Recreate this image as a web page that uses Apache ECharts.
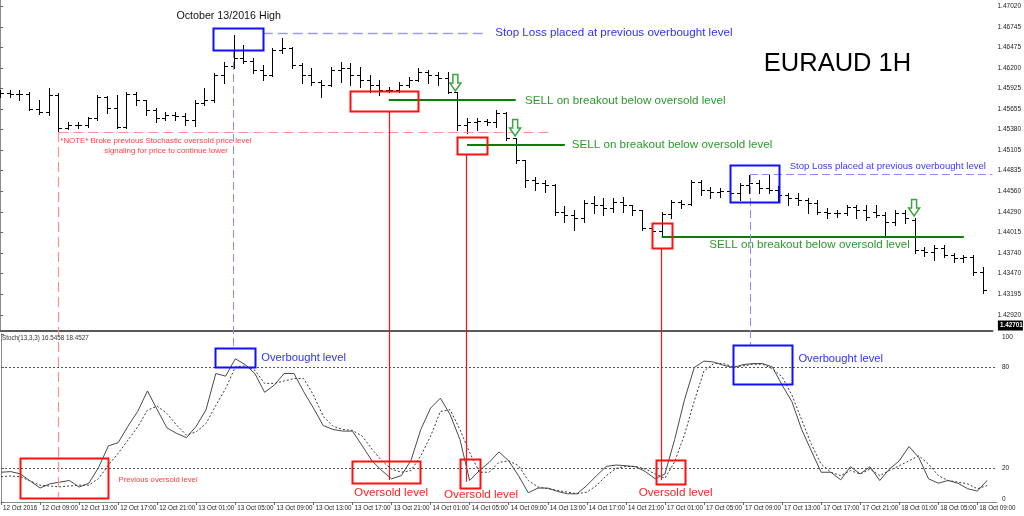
<!DOCTYPE html>
<html><head><meta charset="utf-8">
<script src="https://cdn.jsdelivr.net/npm/echarts@6/dist/echarts.min.js"></script>
<style>html,body{margin:0;padding:0;background:#fff}#c{width:1024px;height:516px}</style>
</head><body><div id="c"></div>
<script>
// ---------------- DATA ----------------
const xTickLabels = ['12 Oct 2016','12 Oct 09:00','12 Oct 13:00','12 Oct 17:00','12 Oct 21:00','13 Oct 01:00','13 Oct 05:00','13 Oct 09:00','13 Oct 13:00','13 Oct 17:00','13 Oct 21:00','14 Oct 01:00','14 Oct 05:00','14 Oct 09:00','14 Oct 13:00','14 Oct 17:00','14 Oct 21:00','17 Oct 01:00','17 Oct 05:00','17 Oct 09:00','17 Oct 13:00','17 Oct 17:00','17 Oct 21:00','18 Oct 01:00','18 Oct 05:00','18 Oct 09:00'];
const barsPerTick = 4;
const priceTicks = [1.47020,1.46745,1.46475,1.46200,1.45925,1.45655,1.45380,1.45105,1.44835,1.44560,1.44290,1.44015,1.43740,1.43470,1.43195,1.42920];
const stochTicks = [0,20,80,100];
const stochLevels = [80,20];
const currentPrice = 1.42701;

const open  = [1.45839,1.45866,1.45853,1.45853,1.45654,1.45614,1.45839,1.45401,1.45441,1.45441,1.45534,1.45813,1.45667,1.45415,1.45853,1.45773,1.45640,1.45534,1.45574,1.45561,1.45508,1.45733,1.45773,1.46105,1.46224,1.46330,1.46291,1.46171,1.46105,1.46437,1.46463,1.46237,1.46105,1.46012,1.45972,1.46171,1.46198,1.46105,1.46038,1.45972,1.45906,1.45906,1.45972,1.46038,1.46145,1.46105,1.46065,1.45879,1.45441,1.45481,1.45494,1.45481,1.45601,1.45269,1.44977,1.44711,1.44672,1.44645,1.44287,1.44247,1.44207,1.44406,1.44380,1.44340,1.44420,1.44380,1.44313,1.44074,1.44035,1.44260,1.44420,1.44393,1.44685,1.44579,1.44552,1.44565,1.44539,1.44645,1.44672,1.44605,1.44579,1.44512,1.44473,1.44446,1.44406,1.44287,1.44274,1.44274,1.44353,1.44313,1.44287,1.44247,1.44154,1.44274,1.44181,1.43783,1.43756,1.43809,1.43716,1.43676,1.43690,1.43491];
const high  = [1.45906,1.45906,1.45906,1.45879,1.45773,1.45932,1.45866,1.45481,1.45481,1.45547,1.45839,1.45826,1.45839,1.45879,1.45879,1.45773,1.45667,1.45614,1.45614,1.45601,1.45773,1.45932,1.46131,1.46277,1.46636,1.46503,1.46330,1.46237,1.46463,1.46596,1.46476,1.46264,1.46198,1.46038,1.46211,1.46277,1.46264,1.46211,1.46105,1.46038,1.45946,1.46012,1.46078,1.46198,1.46171,1.46145,1.46145,1.45879,1.45534,1.45534,1.45521,1.45640,1.45614,1.45269,1.44977,1.44751,1.44711,1.44658,1.44366,1.44313,1.44446,1.44499,1.44473,1.44473,1.44486,1.44380,1.44313,1.44074,1.44287,1.44446,1.44446,1.44711,1.44711,1.44619,1.44605,1.44605,1.44672,1.44778,1.44711,1.44778,1.44632,1.44539,1.44539,1.44473,1.44446,1.44340,1.44313,1.44380,1.44380,1.44380,1.44380,1.44287,1.44313,1.44313,1.44207,1.43822,1.43849,1.43849,1.43743,1.43716,1.43716,1.43557];
const low   = [1.45813,1.45813,1.45773,1.45640,1.45587,1.45574,1.45348,1.45388,1.45401,1.45415,1.45508,1.45601,1.45401,1.45401,1.45707,1.45574,1.45481,1.45508,1.45508,1.45441,1.45428,1.45707,1.45747,1.45999,1.46198,1.46264,1.46131,1.46038,1.46092,1.46397,1.46198,1.45999,1.45972,1.45813,1.45959,1.46012,1.45972,1.45946,1.45879,1.45839,1.45879,1.45879,1.45946,1.46025,1.45999,1.45972,1.45866,1.45375,1.45335,1.45375,1.45441,1.45415,1.45242,1.44937,1.44619,1.44579,1.44552,1.44247,1.44154,1.44048,1.44154,1.44274,1.44247,1.44287,1.44287,1.44247,1.44048,1.44008,1.43955,1.44207,1.44340,1.44380,1.44512,1.44473,1.44486,1.44486,1.44446,1.44539,1.44539,1.44539,1.44420,1.44380,1.44380,1.44274,1.44260,1.44207,1.44220,1.44247,1.44207,1.44181,1.44220,1.43955,1.44114,1.44141,1.43743,1.43703,1.43650,1.43690,1.43623,1.43623,1.43451,1.43212];
const close = [1.45866,1.45853,1.45853,1.45654,1.45614,1.45839,1.45401,1.45441,1.45441,1.45534,1.45813,1.45667,1.45415,1.45853,1.45773,1.45640,1.45534,1.45574,1.45561,1.45508,1.45733,1.45773,1.46105,1.46224,1.46330,1.46291,1.46171,1.46105,1.46437,1.46463,1.46237,1.46105,1.46012,1.45972,1.46171,1.46198,1.46105,1.46038,1.45972,1.45906,1.45906,1.45972,1.46038,1.46145,1.46105,1.46065,1.45879,1.45441,1.45481,1.45494,1.45481,1.45601,1.45269,1.44977,1.44711,1.44672,1.44645,1.44287,1.44247,1.44207,1.44406,1.44380,1.44340,1.44420,1.44380,1.44313,1.44074,1.44035,1.44260,1.44420,1.44393,1.44685,1.44579,1.44552,1.44565,1.44539,1.44645,1.44672,1.44605,1.44579,1.44512,1.44473,1.44446,1.44406,1.44287,1.44274,1.44274,1.44353,1.44313,1.44220,1.44247,1.44154,1.44274,1.44207,1.43783,1.43756,1.43809,1.43716,1.43676,1.43690,1.43491,1.43252];

const stochK = [17.7,18.1,16.7,12.5,8.3,10.8,11.8,12.8,8.9,11.2,20.6,33.4,35.3,45.1,53.9,66.1,54.9,44.1,40.8,38.3,45.1,54.9,76.5,74.9,85.3,81.8,76.5,65.3,69.6,76.5,76.5,65.7,55.9,45.5,43.2,42.2,42.2,33.4,24.5,18.7,13.8,15.7,24.9,43.2,55.9,61.8,52.0,37.3,12.8,18.7,23.6,29.8,24.5,15.7,5.5,8.3,8.3,6.3,4.9,4.9,9.8,15.7,21.2,22.0,21.6,21.0,18.1,13.8,16.7,37.3,60.8,80.0,83.9,83.3,81.4,80.0,81.8,82.4,82.4,80.4,69.6,59.8,43.2,30.4,17.7,17.7,13.2,21.0,16.7,21.0,12.8,19.6,24.5,33.0,26.5,13.8,11.2,12.8,11.2,7.9,6.5,12.8];
const stochD = [15.0,15.5,15.0,12.5,10.0,9.5,9.0,9.5,10.0,10.0,14.0,22.0,29.0,36.8,44.7,54.7,57.0,52.7,45.7,39.8,41.8,46.7,57.5,67.5,80.4,81.0,78.4,70.6,70.6,72.0,73.5,73.5,63.7,51.0,45.1,43.2,42.6,39.2,31.4,24.5,19.6,17.7,18.7,27.5,39.2,53.9,54.9,43.2,29.4,17.7,17.7,23.6,24.5,21.6,12.8,8.9,7.9,6.9,5.9,4.9,5.9,9.8,15.7,20.0,21.2,21.2,19.6,16.7,14.1,24.0,40.0,60.0,78.0,82.4,82.4,80.4,81.0,82.0,82.0,79.4,74.5,63.7,49.0,34.3,22.6,17.7,15.7,18.7,16.7,19.6,15.7,18.7,21.6,24.5,27.5,22.6,15.7,12.8,11.8,10.8,7.9,9.8];

// annotations (data coordinates: x = bar index, y = price or stochastic value)
const priceBoxes = [
  {x:[21.9,27.0], y:[1.46728,1.46437], c:'#1010ff'},
  {x:[36.0,43.0], y:[1.45892,1.45627], c:'#ff1010'},
  {x:[47.0,50.1], y:[1.45282,1.45056], c:'#ff1010'},
  {x:[67.05,69.1], y:[1.44141,1.43809], c:'#ff1010'},
  {x:[75.0,80.0], y:[1.44910,1.44420], c:'#1010ff'}
];
const stochBoxes = [
  {x:[21.9,25.95], y:[91.7,80.4], c:'#1010ff'},
  {x:[75.0,81.06], y:[93.5,70.2], c:'#1010ff'},
  {x:[1.92,10.92], y:[26.2,2.4], c:'#ff1010'},
  {x:[36.0,43.0], y:[24.4,11.3], c:'#ff1010'},
  {x:[47.0,49.06], y:[25.6,8.3], c:'#ff1010'},
  {x:[67.05,70.0], y:[25.0,10.7], c:'#ff1010'}
];
// [fromPanel, x1, y1, toPanel, x2, y2, color, width, dash]
const annLines = [
  ['p',27.0,1.46662,'p',50.0,1.46662,'#9a9aff',1.5,[10,5]],
  ['p',23.9,1.46437,'s',23.9,91.7,'#8a8aff',1,[8,4]],
  ['p',6.0,1.45348,'p',56.6,1.45348,'#ff9090',1.2,[10,5]],
  ['p',6.0,1.45348,'s',6.0,3,'#ff9090',1.2,[10,5]],
  ['p',39.95,1.45773,'p',53.0,1.45773,'#0a7d0a',2,null],
  ['p',48.0,1.45176,'p',58.05,1.45176,'#0a7d0a',2,null],
  ['p',68.0,1.43955,'p',99.05,1.43955,'#0a7d0a',2,null],
  ['p',77.07,1.44791,'p',102,1.44791,'#8a8aff',1,[8,4]],
  ['p',77.07,1.44791,'s',77.07,93.5,'#8a8aff',1,[8,4]],
  ['p',39.95,1.45627,'s',39.95,13.1,'#ff1010',1.2,null],
  ['p',47.93,1.45056,'s',47.93,12.0,'#ff1010',1.2,null],
  ['p',67.97,1.43809,'s',67.97,13.0,'#ff1010',1.2,null]
];
// [panel, text, x, y, color, size, align]
const annTexts = [
  ['p','October 13/2016 High',23.5,1.46888,'#111',10.7,'center'],
  ['p','Stop Loss placed at previous overbought level',50.9,1.46662,'#3030ff',11.6,'left'],
  ['p','EURAUD 1H',78.5,1.46250,'#000',25.5,'left'],
  ['p','SELL on breakout below oversold level',53.96,1.45760,'#2a9a2a',11.6,'left'],
  ['p','SELL on breakout below oversold level',58.77,1.45176,'#2a9a2a',11.6,'left'],
  ['p','SELL on breakout below oversold level',72.9,1.43849,'#2a9a2a',11.6,'left'],
  ['p','*NOTE* Broke previous Stochastic oversold price level',6.2,1.45229,'#ff4040',7.9,'left'],
  ['p','signaling for price to continue lower',10.71,1.45096,'#ff4040',7.9,'left'],
  ['p','Stop Loss placed at previous overbought level',81.16,1.44897,'#3a3aff',9.6,'left'],
  ['s','Overbought level',26.66,85.7,'#3030ff',11.2,'left'],
  ['s','Overbought level',81.67,85.1,'#3030ff',11.2,'left'],
  ['s','Previous oversold level',12.04,13.1,'#ff4040',7.7,'left'],
  ['s','Oversold level',39.95,5.4,'#ff2020',11.7,'center'],
  ['s','Oversold level',49.16,4.2,'#ff2020',11.7,'center'],
  ['s','Oversold level',69.1,5.4,'#ff2020',11.7,'center']
];
const sellArrows = [[46.8,1.45999],[52.94,1.45402],[93.94,1.44340]];
const stochTitle = 'Stoch(13,3,3) 16.5458 18.4527';

// ---------------- CHART ----------------
const FONT = "'Liberation Sans', Arial, sans-serif";
const nBars = open.length;
const ohlc = open.map((o,i)=>[i,o,high[i],low[i],close[i]]);
const kData = stochK.map((v,i)=>[i,v]);
const dData = stochD.map((v,i)=>[i,v]);
const xMax = nBars;
const xTickVals = xTickLabels.map((_,i)=>i*barsPerTick);

const chart = echarts.init(document.getElementById('c'), null, {renderer:'canvas'});
const gridL = -0.8, gridR = 27.1;
const option = {
  animation:false,
  backgroundColor:'#fff',
  grid:[
    {left:gridL, right:gridR, top:0, height:331},
    {left:gridL, right:gridR, top:334, height:168}
  ],
  xAxis:[
    {type:'value', gridIndex:0, min:0, max:xMax, axisLabel:{show:false}, axisTick:{show:false}, splitLine:{show:false},
     axisLine:{show:true, onZero:false, lineStyle:{color:'#5a5a5a', width:2}}},
    {type:'value', gridIndex:1, min:0, max:xMax, splitLine:{show:false},
     axisLine:{show:true, onZero:false, lineStyle:{color:'#8a8a8a', width:1}},
     axisTick:{show:true, length:3, customValues:xTickVals, lineStyle:{color:'#666'}},
     axisLabel:{show:true, customValues:xTickVals, align:'left', margin:3, padding:[0,0,0,2],
       fontSize:6.3, color:'#222', fontFamily:FONT, formatter:v=>xTickLabels[Math.round(v/barsPerTick)]}}
  ],
  yAxis:[
    {type:'value', gridIndex:0, position:'right', min:1.42708, max:1.47100, scale:true, splitLine:{show:false},
     axisLine:{show:true, lineStyle:{color:'#8a8a8a'}},
     axisTick:{show:true, length:3, customValues:priceTicks, lineStyle:{color:'#666'}},
     axisLabel:{customValues:priceTicks, margin:5, fontSize:6.5, color:'#222', fontFamily:FONT, formatter:v=>v.toFixed(5)}},
    {type:'value', gridIndex:1, position:'right', min:0, max:100, splitLine:{show:false},
     axisLine:{show:true, lineStyle:{color:'#8a8a8a'}},
     axisTick:{show:true, length:3, customValues:stochTicks, lineStyle:{color:'#666'}},
     axisLabel:{customValues:stochTicks, margin:5, fontSize:6.5, color:'#222', fontFamily:FONT,
       formatter:v=>v===100 ? '{t|100}' : (v===0 ? '{b|0}' : String(v)),
       rich:{t:{padding:[6,0,0,0], fontSize:6.5, fontFamily:FONT, color:'#222'}, b:{padding:[0,0,6,0], fontSize:6.5, fontFamily:FONT, color:'#222'}}}}
  ],
  series:[
    {type:'custom', xAxisIndex:0, yAxisIndex:0, clip:true, data:ohlc, encode:{x:0, y:[1,2,3,4]},
     renderItem:function(params, api){
       const i = api.value(0);
       const o = api.coord([i, api.value(1)]), h = api.coord([i, api.value(2)]),
             l = api.coord([i, api.value(3)]), c = api.coord([i, api.value(4)]);
       const x = Math.round(o[0]) + 0.5;
       const st = {stroke:'#000', lineWidth:1};
       const yo = Math.round(o[1]) + 0.5, yc = Math.round(c[1]) + 0.5;
       return {type:'group', children:[
         {type:'line', shape:{x1:x, y1:Math.round(h[1]), x2:x, y2:Math.round(l[1])+1}, style:st},
         {type:'line', shape:{x1:x-3.5, y1:yo, x2:x, y2:yo}, style:st},
         {type:'line', shape:{x1:x, y1:yc, x2:x+3.5, y2:yc}, style:st}
       ]};
     }},
    {type:'line', xAxisIndex:1, yAxisIndex:1, data:kData, showSymbol:false, symbol:'none',
     lineStyle:{color:'#4a4a4a', width:1},
     markLine:{silent:true, symbol:'none', label:{show:false},
       lineStyle:{color:'#555', width:1, type:[2,2]},
       data:stochLevels.map(v=>({yAxis:v}))}},
    {type:'line', xAxisIndex:1, yAxisIndex:1, data:dData, showSymbol:false, symbol:'none',
     lineStyle:{color:'#3a3a3a', width:1, type:[2,2]}}
  ]
};
chart.setOption(option);

// ------------- annotations positioned through the axes -------------
function px(panel, x, y){
  return chart.convertToPixel(panel==='p' ? {xAxisIndex:0, yAxisIndex:0} : {xAxisIndex:1, yAxisIndex:1}, [x, y]);
}
const g = [];
function addBox(panel, b){
  const a = px(panel, b.x[0], b.y[0]), z = px(panel, b.x[1], b.y[1]);
  g.push({type:'rect', z:100, shape:{x:Math.round(a[0])+0.5, y:Math.round(a[1])+0.5, width:Math.round(z[0]-a[0]), height:Math.round(z[1]-a[1])},
    style:{fill:null, stroke:b.c, lineWidth:2}});
}
priceBoxes.forEach(b=>addBox('p', b));
stochBoxes.forEach(b=>addBox('s', b));
annLines.forEach(L=>{
  const a = px(L[0], L[1], L[2]), z = px(L[3], L[4], L[5]);
  let x1 = a[0], x2 = z[0], y1 = a[1], y2 = z[1];
  if (L[1] === L[4]) { x1 = x2 = Math.round(a[0]) + 0.5; }
  if (L[2] === L[5] && L[0] === L[3]) { y1 = y2 = Math.round(a[1]) + (L[7] >= 2 ? 0 : 0.5); }
  g.push({type:'line', z:90, shape:{x1:x1, y1:y1, x2:x2, y2:y2},
    style:{stroke:L[6], lineWidth:L[7], lineDash:L[8] || null}});
});
annTexts.forEach(T=>{
  const p = px(T[0], T[2], T[3]);
  g.push({type:'text', z:110, x:p[0], y:p[1], style:{text:T[1], fill:T[4], font:T[5]+'px '+FONT, align:T[6], verticalAlign:'middle'}});
});
sellArrows.forEach(A=>{
  const p = px('p', A[0], A[1]);
  g.push({type:'polygon', z:110, x:p[0], y:p[1],
    shape:{points:[[-2.5,-8.5],[2.5,-8.5],[2.5,0],[5.5,0],[0,8],[-5.5,0],[-2.5,0]]},
    style:{fill:'#fff', stroke:'#3aa53a', lineWidth:1.5}});
});
// current price tag on the price axis + indicator caption
(function(){
  const p = px('p', 0, currentPrice);
  const axisX = chart.getWidth() - gridR;
  g.push({type:'rect', z:120, shape:{x:axisX+1, y:p[1]-11, width:25, height:10}, style:{fill:'#000'}});
  g.push({type:'text', z:121, x:axisX+3, y:p[1]-6, style:{text:currentPrice.toFixed(5), fill:'#fff', font:'bold 6.3px '+FONT, verticalAlign:'middle'}});
  const t = px('s', 0, 100);
  g.push({type:'text', z:121, x:2, y:t[1]+4, style:{text:stochTitle, fill:'#333', font:'6.3px '+FONT, verticalAlign:'middle'}});
})();
chart.setOption({graphic:{elements:g}});
</script>
</body></html>
